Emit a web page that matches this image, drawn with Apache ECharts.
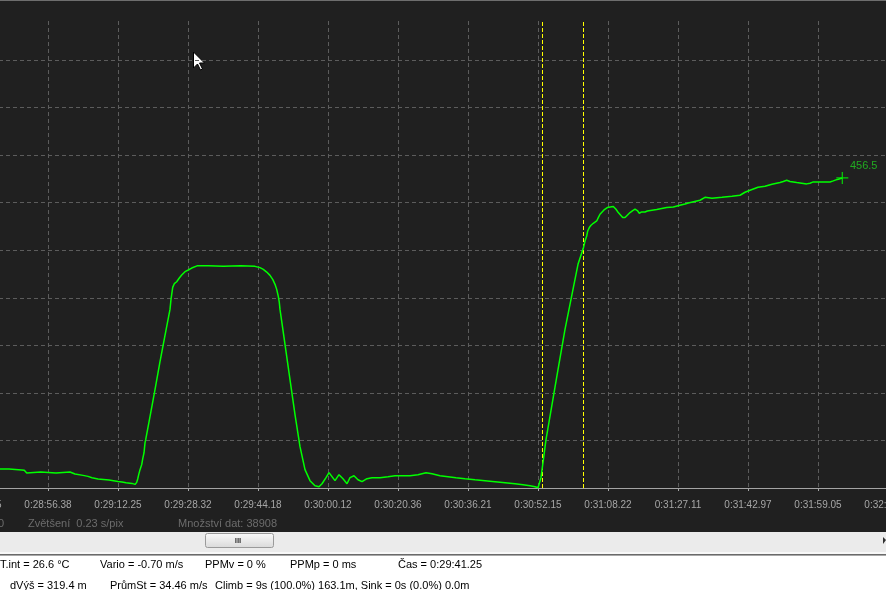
<!DOCTYPE html>
<html><head><meta charset="utf-8">
<script src="https://cdn.jsdelivr.net/npm/echarts@6/dist/echarts.min.js"></script>
<style>html,body{margin:0;padding:0;background:#202020;overflow:hidden}#c{width:886px;height:590px}</style>
</head><body><div id="c"></div>
<script>
// x = position in view "pix" (0.23 s/pix), y = altitude [m]
const tickLabels = ['0:28:40.45','0:28:56.38','0:29:12.25','0:29:28.32','0:29:44.18','0:30:00.12','0:30:20.36',
  '0:30:36.21','0:30:52.15','0:31:08.22','0:31:27.11','0:31:42.97','0:31:59.05','0:32:15.12'];
const tickStep = 70;
const altitudeTrace = [
 [20,28.0],[31,28.0],[31.5,26.5],[43.7,26.5],[45.3,28.9],[46.3,26.0],[47,28.0],[48,23.6],[48.7,22.1],[49.5,23.6],
 [62.7,23.6],[63.3,22.1],[78,22.1],[78.5,23.6],[92,23.6],[92.5,22.1],[97,20.6],[105,18.6],[110,17.1],[114,15.2],
 [120,13.3],[131,11.8],[140,9.7],[144,8.8],[148,7.8],[154,6.8],[155.3,4.4],[157,5.3],[158.7,8.3],[159.7,13.3],
 [160.7,19.6],[162,27.0],[163.7,34.4],[164.7,42.8],[166,51.6],[167,66.4],[167.7,71.2],[172,105.1],[177,144.9],
 [182,186.2],[187,224.6],[192,262.9],[193,277.6],[194.7,295.3],[196.3,300.8],[198.7,303.7],[201.3,309.1],
 [203.7,313.5],[207,318.5],[210.3,320.9],[213.7,323.8],[219.7,327.3],[230.3,327.3],[231.3,326.3],[245.3,326.3],
 [246,327.3],[262.7,327.3],[263.5,326.3],[277,326.3],[282,324.4],[285.3,321.9],[288.7,317.9],[292,313.0],
 [294.7,307.1],[297,299.8],[298.7,292.4],[300.3,282.1],[301.3,273.2],[302,262.9],[307,211.3],[312,159.7],
 [317,108.1],[322,60.9],[327,27.0],[332,10.8],[337,3.4],[341,1.9],[344,6.3],[348,15.2],[351,22.6],[354,16.7],
 [357,10.8],[361,19.6],[365,13.7],[369,6.3],[372,15.2],[376,18.1],[380,12.2],[384,9.3],[389,13.7],[394,15.2],
 [402,15.2],[410,16.7],[417,18.1],[424,18.1],[432,18.1],[440,19.6],[448,22.6],[454,21.1],[462,18.1],[470,16.7],
 [478,15.2],[487,13.7],[497,12.2],[507,10.8],[517,9.3],[527,7.8],[537,6.3],[545,4.9],[552,3.4],[557,1.9],[560,0.4],
 [563,15.2],[568,71.2],[574,122.8],[580,174.4],[587,233.4],[594,285.0],[600,329.3],[605.3,352.8],[607,363.6],
 [608.7,371.0],[609.7,378.4],[611.3,383.4],[613,386.8],[615.3,389.7],[618.7,393.1],[620.3,398.1],[622,403.0],
 [623.7,405.5],[626,409.3],[629.3,412.9],[631.3,414.3],[635.3,414.3],[638,410.4],[640.3,405.5],[642.7,401.5],
 [644.7,398.1],[647,398.1],[649.3,401.5],[652,405.5],[654.7,408.4],[657,410.4],[658.7,411.4],[659.7,407.8],
 [661.3,404.5],[663.7,406.4],[667,406.4],[669.3,407.8],[671.3,409.9],[678.7,409.9],[688.7,412.9],[695.3,413.7],
 [702,416.3],[707,418.2],[710.3,419.6],[722,423.6],[727,428.0],[734,426.6],[744,428.0],[754,429.5],[762,431.0],
 [767,435.4],[772,438.4],[780,442.8],[787,444.3],[794,447.2],[802,449.7],[805.3,451.2],[808.7,453.1],[812,451.2],
 [818.7,449.7],[823.7,448.7],[828.7,447.7],[832,448.7],[835.3,450.6],[852,450.6],[855.3,452.1],[858,453.6],
 [860.3,454.6],[864.3,456.5]
];
const cursorMarks = [564.3, 605.5];
const statusRow1 = [['T.int = 26.6 °C',0],['Vario = -0.70 m/s',100],['PPMv = 0 %',205],['PPMp = 0 ms',290],['Čas = 0:29:41.25',398]];
const statusRow2 = [['dVýš = 319.4 m',10],['PrůmSt = 34.46 m/s',110],['Climb = 9s (100.0%) 163.1m, Sink = 0s (0.0%) 0.0m',215]];
const infoTexts = [['0',4,'right'],['Zvětšení  0.23 s/pix',28,'left'],['Množství dat: 38908',178,'left']];

const FONT = '"Liberation Sans", Arial, sans-serif';
const chart = echarts.init(document.getElementById('c'), null, {renderer:'canvas'});
const last = altitudeTrace[altitudeTrace.length-1];

const graphics = [
  {type:'rect', shape:{x:0,y:0,width:886,height:1}, style:{fill:'#6e6e6e'}, silent:true},
  {type:'rect', shape:{x:0,y:532,width:886,height:20}, style:{fill:'#ebebeb'}, silent:true},
  {type:'rect', shape:{x:0,y:552,width:886,height:2}, style:{fill:'#f8f8f8'}, silent:true},
  {type:'rect', shape:{x:0,y:554,width:886,height:1}, style:{fill:'#6a6a6a'}, silent:true},
  {type:'rect', shape:{x:0,y:555,width:886,height:1}, style:{fill:'#a8a8a8'}, silent:true},
  {type:'rect', shape:{x:0,y:556,width:886,height:34}, style:{fill:'#ffffff'}, silent:true},
  {type:'rect', shape:{x:205.5,y:533.5,width:68,height:14,r:2}, style:{
     fill:new echarts.graphic.LinearGradient(0,0,0,1,[{offset:0,color:'#fbfbfb'},{offset:1,color:'#d9d9d9'}]),
     stroke:'#9a9a9a', lineWidth:1}, silent:true},
  {type:'text', style:{text:'III', x:238, y:540.5, fill:'#3a3a3a', font:'bold 8px '+FONT, align:'center', verticalAlign:'middle'}, silent:true},
  {type:'polygon', shape:{points:[[883,537],[886,540],[883,544]]}, style:{fill:'#303030'}, silent:true},
  {type:'polygon', shape:{points:[[193.5,52],[193.5,68],[197.5,64],[200.5,70],[202.5,69],[199.5,63],[204.5,63]]},
     style:{fill:'#ffffff', stroke:'#000000', lineWidth:1}, silent:true}
];
infoTexts.forEach(([t,x,a])=>graphics.push({type:'text', style:{text:t, x:x, y:523.5, fill:'#6c6c6c', font:'11px '+FONT, align:a, verticalAlign:'middle'}, silent:true}));
statusRow1.forEach(([t,x])=>graphics.push({type:'text', style:{text:t, x:x, y:565, fill:'#000000', font:'11px '+FONT, verticalAlign:'middle'}, silent:true}));
statusRow2.forEach(([t,x])=>graphics.push({type:'text', style:{text:t, x:x, y:585.5, fill:'#000000', font:'11px '+FONT, verticalAlign:'middle'}, silent:true}));

const gridLine = {color:'#5c5c5c', width:1, type:[4,3]};
chart.setOption({
  backgroundColor:'#202020',
  animation:false,
  grid:{left:-22, right:-2, top:21, bottom:102, containLabel:false, outerBoundsMode:'none'},
  xAxis:{type:'value', min:0, max:tickStep*(tickLabels.length-1), interval:tickStep,
    axisLine:{show:true, onZero:false, lineStyle:{color:'#a4a4a4', width:1}},
    axisTick:{show:true, length:3, lineStyle:{color:'#a4a4a4'}},
    axisLabel:{show:true, margin:12, color:'#a6a6a6', fontSize:10, fontFamily:FONT, showMinLabel:true, showMaxLabel:true,
      formatter:v=>tickLabels[Math.round(v/tickStep)] || ''},
    splitLine:{show:true, showMinLine:false, showMaxLine:false, lineStyle:gridLine}},
  yAxis:{type:'value', min:0, max:687.5, interval:70,
    axisLine:{show:false}, axisTick:{show:false}, axisLabel:{show:false},
    splitLine:{show:true, showMinLine:false, showMaxLine:false, lineStyle:gridLine}},
  series:[
    {type:'line', data:altitudeTrace, showSymbol:false, symbol:'none', z:5,
     lineStyle:{color:'#00ff00', width:1.5},
     markLine:{silent:true, symbol:['none','none'], label:{show:false},
       lineStyle:{color:'#ffff00', type:[4,2], width:1},
       data:cursorMarks.map(v=>({xAxis:v}))}},
    {type:'scatter', data:[last], z:6, symbol:'path://M0,6L12,6M6,0L6,12', symbolSize:12,
     itemStyle:{color:'rgba(0,0,0,0)', borderColor:'#00ff00', borderWidth:1.2},
     label:{show:true, position:'right', distance:1, offset:[0,-12], color:'#22cc22', fontSize:11, fontFamily:FONT,
       formatter:p=>p.value[1].toFixed(1)}}
  ],
  graphic:graphics
});
</script></body></html>
